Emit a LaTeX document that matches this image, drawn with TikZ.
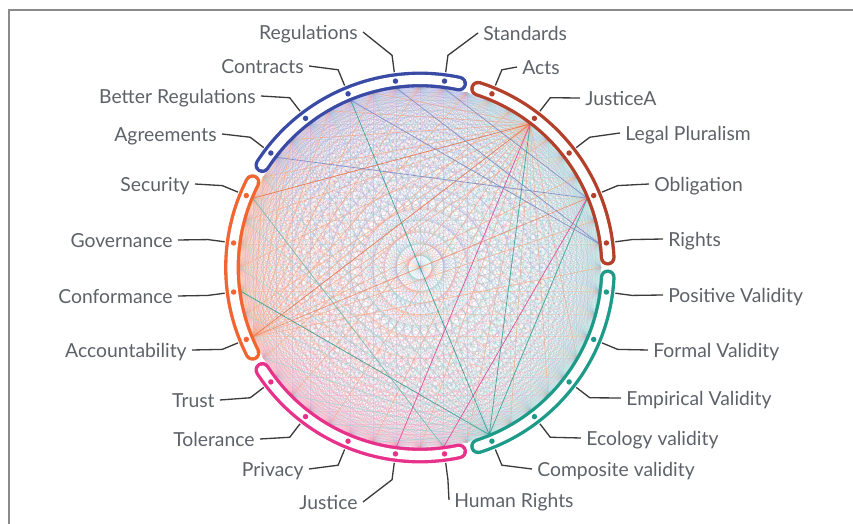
\documentclass[tikz,border=0pt]{standalone}
\usepackage{fontspec}
\setmainfont{Lato}

\definecolor{bandblue}{HTML}{3A4BA6}
\definecolor{bandbrown}{HTML}{B2402B}
\definecolor{bandorange}{HTML}{F26430}
\definecolor{bandpink}{HTML}{E8318A}
\definecolor{bandteal}{HTML}{1D9A88}
\definecolor{meshbl}{HTML}{A6A3DE}
\definecolor{meshor}{HTML}{F9A77F}
\definecolor{meshpk}{HTML}{F19CC0}
\definecolor{meshtl}{HTML}{9FD0D0}
\definecolor{labelgray}{HTML}{5D6168}
\definecolor{leadergray}{HTML}{3B3B3B}
\definecolor{framegray}{HTML}{8A8A8A}

\tikzset{
  mesh/.style={line width=0.32pt, draw opacity=0.38},
  fan/.style={line width=0.4pt, draw opacity=0.6},
  accent/.style={line width=0.45pt, draw opacity=0.75},
  band/.style={line width=9pt, line cap=round},
  bandin/.style={line width=5.2pt, line cap=round, draw=white},
  dot/.style={circle, inner sep=0pt, minimum size=3.1pt},
  leader/.style={draw=leadergray, line width=0.75pt},
  lbl/.style={text=labelgray, inner xsep=2.85pt, inner ysep=0pt, text height=0.9em,
    text depth=0.1em, font=\fontsize{11}{13}\selectfont},
  frame/.style={draw=framegray, line width=0.85pt}
}

\begin{document}
\begin{tikzpicture}[x=0.02cm, y=0.02cm]
  \useasboundingbox (-420,-256.5) rectangle (433,267.5);
  % frame
  \draw[frame] (-411,-256.5) -- (-411,257.5) -- (433,257.5);

  % chord points on the inner rim (odd ones face the dots)
  \foreach \i in {0,...,47}
    \coordinate (q\i) at (\i*7.5:181);

  % chord mesh
  \foreach \i in {0,...,46}{
    \pgfmathtruncatemacro\js{\i+1}
    \foreach \j in {\js,...,47}{
      \pgfmathtruncatemacro\g{isodd(\i+\j) ? int(\j/2) : int(\i/2)}
      \ifnum\g<5 \def\mc{meshtl}\else\ifnum\g<10 \def\mc{meshbl}\else
      \ifnum\g<14 \def\mc{meshor}\else\ifnum\g<19 \def\mc{meshpk}\else
      \def\mc{meshtl}\fi\fi\fi\fi
      \draw[mesh, draw=\mc] (q\i) -- (q\j);
    }
  }

  % fans: JusticeA, Accountability, Composite validity
  \foreach \j in {14,16,...,44} \draw[fan, draw=meshor] (q7) -- (q\j);
  \foreach \j in {0,2,...,20} \draw[fan, draw=meshor] (q27) -- (q\j);
  \foreach \j in {14,16,...,34} \draw[fan, draw=meshtl] (q39) -- (q\j);

  % accent chords
  \draw[accent, draw=bandteal] (q15) -- (q39);   % contracts - composite
  \draw[accent, draw=bandteal] (q25) -- (q39);   % conformance - composite
  \draw[accent, draw=bandteal] (q7) -- (q39);    % justiceA - composite
  \draw[accent, draw=bandteal] (q3) -- (q39);    % obligation - composite
  \draw[accent, draw=bandteal!70] (q21) -- (q37);
  \draw[accent, draw=bandpink] (q7) -- (q35);    % justiceA - justice
  \draw[accent, draw=bandpink] (q3) -- (q37);    % obligation - human rights
  \draw[accent, draw=bandorange] (q21) -- (q7);
  \draw[accent, draw=bandorange] (q27) -- (q7);
  \draw[accent, draw=bandorange!80] (q27) -- (q3);
  \draw[accent, draw=bandblue!70] (q13) -- (q1);
  \draw[accent, draw=bandblue!70] (q11) -- (q3);
  \draw[accent, draw=bandblue!70] (q19) -- (q3);
  \draw[accent, draw=bandblue!70] (q15) -- (q1);

  % group bands
  \foreach \s/\e/\col in {3/72/bandbrown, 78/147/bandblue, 153/207/bandorange,
                          213/282/bandpink, 288/357/bandteal}{
    \draw[band, draw=\col] (\s:188) arc[start angle=\s, end angle=\e, radius=188];
    \draw[bandin] (\s:188) arc[start angle=\s, end angle=\e, radius=188];
  }

  % dots, labels and leaders
  \foreach \nm/\a/\col/\lx/\ly/\anc/\txt in {
      rig/7.5/bandbrown/243/28.5/west/Rights,
      obl/22.5/bandbrown/229/83.5/west/Obligation,
      leg/37.5/bandbrown/200/134.5/west/Legal Pluralism,
      jua/52.5/bandbrown/160/169.5/west/JusticeA,
      act/67.5/bandbrown/97/200.5/west/Acts,
      sta/82.5/bandblue/58/234.5/west/Standards,
      reg/97.5/bandblue/-57/235.5/east/Regulations,
      con/112.5/bandblue/-111/201.5/east/Contracts,
      bet/127.5/bandblue/-159/171.5/east/Better Regulations,
      agr/142.5/bandblue/-198/133.5/east/Agreements,
      sec/157.5/bandorange/-225/83.5/east/Security,
      gov/172.5/bandorange/-242/27.5/east/Governance,
      cnf/187.5/bandorange/-242/-28.5/east/Conformance,
      acc/202.5/bandorange/-228/-82.5/east/Accountability,
      tru/217.5/bandpink/-200/-132.5/east/Trust,
      tol/232.5/bandpink/-160/-171.5/east/Tolerance,
      pri/247.5/bandpink/-111/-201.5/east/Privacy,
      jus/262.5/bandpink/-57/-234.5/east/Justice,
      hum/277.5/bandpink/29/-232.5/west/Human Rights,
      cmp/292.5/bandteal/112/-201.5/west/Composite validity,
      eco/307.5/bandteal/161/-170.5/west/Ecology validity,
      emp/322.5/bandteal/201/-130.5/west/Empirical Validity,
      frm/337.5/bandteal/228/-82.5/west/Formal Validity,
      pos/352.5/bandteal/243/-27.5/west/Positive Validity}{
    \node[dot, fill=\col] (\nm) at (\a:188) {};
    \node[lbl, anchor=\anc] (l\nm) at (\lx,\ly) {\txt};
    \draw[leader] (\nm) ++(\a:9) -- ++(\a:17) -- (l\nm.\anc);
  }
\end{tikzpicture}
\end{document}
